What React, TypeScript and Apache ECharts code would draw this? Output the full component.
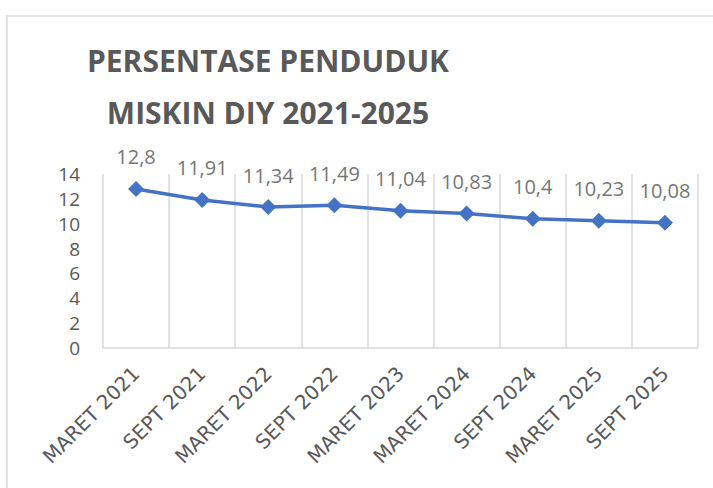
import React, { useEffect, useRef } from "react";
import * as echarts from "echarts";

const categories = [
  "MARET 2021",
  "SEPT 2021",
  "MARET 2022",
  "SEPT 2022",
  "MARET 2023",
  "MARET 2024",
  "SEPT 2024",
  "MARET 2025",
  "SEPT 2025",
];
const values = [12.8, 11.91, 11.34, 11.49, 11.04, 10.83, 10.4, 10.23, 10.08];
const titleLines = ["PERSENTASE PENDUDUK", "MISKIN DIY 2021-2025"];

export default function App() {
  const ref = useRef<HTMLDivElement>(null);
  useEffect(() => {
    if (!ref.current) return;
    const chart = echarts.init(ref.current, null, { renderer: "svg" });
    chart.setOption({
      animation: false,
      backgroundColor: "#ffffff",
      title: {
        text: titleLines.join("\n"),
        left: 263,
        top: 29,
        textAlign: "center",
        textStyle: {
          fontFamily: "Open Sans",
          fontWeight: "bold",
          fontSize: 30,
          lineHeight: 52,
          color: "#595959",
        },
      },
      graphic: [
        {
          type: "rect",
          shape: { x: 7, y: 16, width: 800, height: 600 },
          style: { fill: "none", stroke: "#d9d9d9", lineWidth: 1.5 },
          silent: true,
        },
      ],
      grid: { left: 103, right: 15, top: 174, bottom: 140 },
      xAxis: {
        type: "category",
        data: categories,
        boundaryGap: true,
        axisLine: { show: true, lineStyle: { color: "#d9d9d9", width: 1.5 } },
        axisTick: { show: false },
        splitLine: { show: true, interval: 0, lineStyle: { color: "#d9d9d9", width: 1.5 } },
        axisLabel: {
          interval: 0,
          rotate: 45,
          margin: 22,
          fontFamily: "DejaVu Sans",
          fontSize: 20,
          color: "#595959",
        },
      },
      yAxis: {
        type: "value",
        min: 0,
        max: 14,
        interval: 2,
        axisLine: { show: false },
        axisTick: { show: false },
        splitLine: { show: false },
        axisLabel: {
          margin: 23,
          fontFamily: "Open Sans",
          fontSize: 19,
          color: "#595959",
        },
      },
      series: [
        {
          type: "line",
          data: values,
          symbol: "diamond",
          symbolSize: 16,
          lineStyle: { color: "#4472c4", width: 3.5 },
          itemStyle: { color: "#4472c4" },
          label: {
            show: true,
            position: "top",
            distance: 14,
            fontFamily: "Open Sans",
            fontSize: 20,
            color: "#767676",
            formatter: (p: any) => String(p.value).replace(".", ","),
          },
        },
      ],
    });
    return () => chart.dispose();
  }, []);
  return (
    <div
      ref={ref}
      style={{ position: "fixed", left: 0, top: 0, width: 713, height: 488 }}
    />
  );
}
